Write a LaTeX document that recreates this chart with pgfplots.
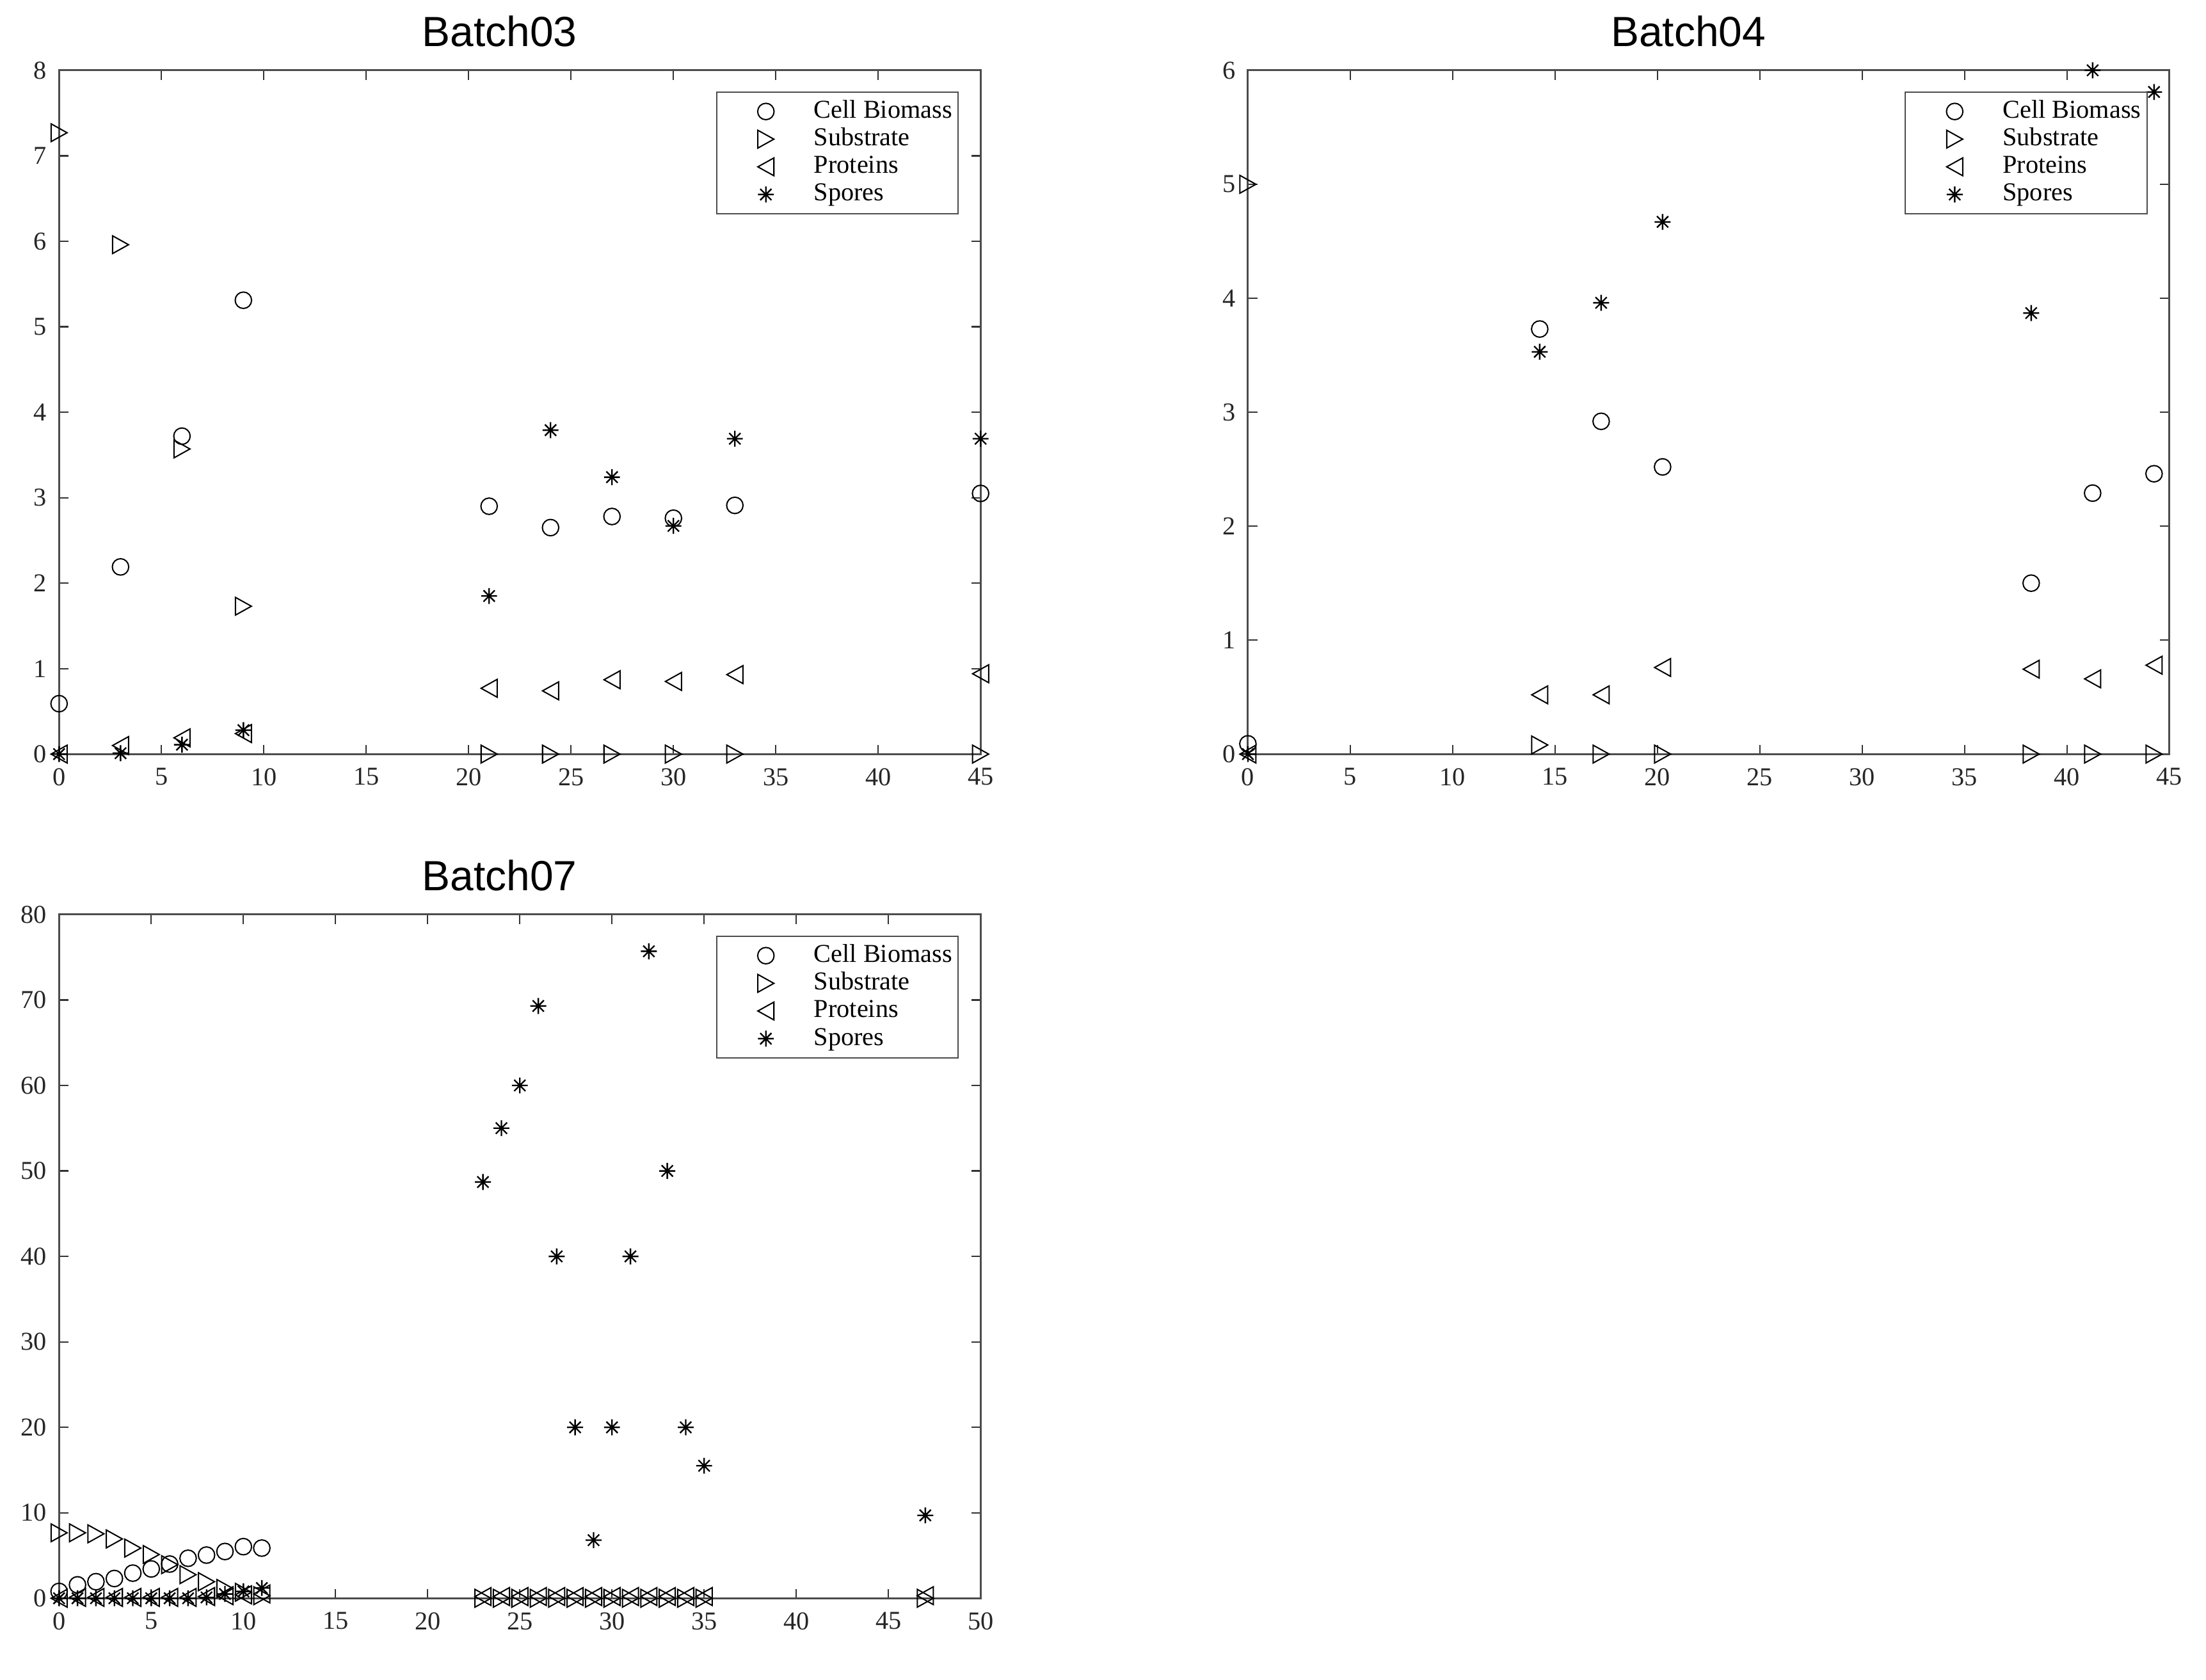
\documentclass[border=0pt]{standalone}
\usepackage{fontspec}
\setmainfont{Liberation Serif}
\newfontfamily\titlefont{Liberation Sans}
\usepackage{pgfplots}
\pgfplotsset{compat=1.18}

\pgfdeclareplotmark{mstar}{%
  \pgfpathmoveto{\pgfqpoint{-\pgfplotmarksize}{0pt}}%
  \pgfpathlineto{\pgfqpoint{\pgfplotmarksize}{0pt}}%
  \pgfpathmoveto{\pgfqpoint{0pt}{-\pgfplotmarksize}}%
  \pgfpathlineto{\pgfqpoint{0pt}{\pgfplotmarksize}}%
  \pgfpathmoveto{\pgfqpoint{-0.707\pgfplotmarksize}{-0.707\pgfplotmarksize}}%
  \pgfpathlineto{\pgfqpoint{0.707\pgfplotmarksize}{0.707\pgfplotmarksize}}%
  \pgfpathmoveto{\pgfqpoint{-0.707\pgfplotmarksize}{0.707\pgfplotmarksize}}%
  \pgfpathlineto{\pgfqpoint{0.707\pgfplotmarksize}{-0.707\pgfplotmarksize}}%
  \pgfusepathqstroke}
\pgfdeclareplotmark{mright}{%
  \pgfpathmoveto{\pgfqpoint{-0.9\pgfplotmarksize}{\pgfplotmarksize}}%
  \pgfpathlineto{\pgfqpoint{0.9\pgfplotmarksize}{0pt}}%
  \pgfpathlineto{\pgfqpoint{-0.9\pgfplotmarksize}{-\pgfplotmarksize}}%
  \pgfpathclose\pgfusepathqstroke}
\pgfdeclareplotmark{mleft}{%
  \pgfpathmoveto{\pgfqpoint{0.9\pgfplotmarksize}{\pgfplotmarksize}}%
  \pgfpathlineto{\pgfqpoint{-0.9\pgfplotmarksize}{0pt}}%
  \pgfpathlineto{\pgfqpoint{0.9\pgfplotmarksize}{-\pgfplotmarksize}}%
  \pgfpathclose\pgfusepathqstroke}

\pgfplotsset{
  mstyle/.style={
    scale only axis, width=393pt, height=291.6pt,
    clip=false,
    axis line style={black!70, line width=0.8pt},
    tick style={black!80, line width=0.6pt},
    major tick length=4pt,
    tick align=inside,
    xtick pos=both, ytick pos=both,
    ticklabel style={font=\fontsize{11}{13}\selectfont, text=black!85},
    /pgf/number format/assume math mode=true,
    x tick label style={yshift=-2.5pt},
    y tick label style={xshift=-1.8pt},
    title style={font=\titlefont\fontsize{18}{20}\selectfont, at={(0.478,1)}, anchor=base, yshift=4.2pt},
    legend style={at={(1,1)}, xshift=-9.3pt, yshift=-9pt, anchor=north east,
      draw=black!70, line width=0.6pt, fill=white,
      font=\fontsize{11}{13}\selectfont, inner xsep=2pt, inner ysep=2.5pt, row sep=0.3pt,
      nodes={inner sep=0.5pt, text height=8pt, text depth=2.5pt}},
    legend cell align=left,
  },
  limg/.style={legend image code/.code={\path[draw=none,fill=none] (0pt,0pt) -- (39pt,0pt);\draw[##1, only marks] plot coordinates {(19pt,0pt)};}},
  pcell/.style={only marks, mark=o, mark size=3.5pt, mark options={black, line width=0.55pt}, limg},
  psub/.style={only marks, mark=mright, mark size=3.8pt, mark options={black, line width=0.55pt}, limg},
  pprot/.style={only marks, mark=mleft, mark size=3.8pt, mark options={black, line width=0.55pt}, limg},
  pspor/.style={only marks, mark=mstar, mark size=3.4pt, mark options={black, line width=0.65pt}, limg},
}

\begin{document}
\begin{tikzpicture}
\path[use as bounding box] (0pt,0pt) rectangle (940.8pt,716.4pt);

% Batch03
\begin{axis}[mstyle, at={(25.2pt,394.8pt)}, anchor=south west,
  title={Batch03}, xmin=0, xmax=45, ymin=0, ymax=8,
  xtick={0,5,...,45}, ytick={0,1,...,8}]
\addplot[pcell] coordinates {(0,0.59)(3,2.19)(6,3.72)(9,5.31)(21,2.90)(24,2.65)(27,2.78)(30,2.76)(33,2.91)(45,3.05)};
\addlegendentry{Cell Biomass}
\addplot[psub] coordinates {(0,7.27)(3,5.96)(6,3.57)(9,1.73)(21,0)(24,0)(27,0)(30,0)(33,0)(45,0)};
\addlegendentry{Substrate}
\addplot[pprot] coordinates {(0,0)(3,0.10)(6,0.19)(9,0.24)(21,0.77)(24,0.74)(27,0.87)(30,0.85)(33,0.93)(45,0.94)};
\addlegendentry{Proteins}
\addplot[pspor] coordinates {(0,0)(3,0.01)(6,0.11)(9,0.28)(21,1.85)(24,3.79)(27,3.24)(30,2.67)(33,3.69)(45,3.69)};
\addlegendentry{Spores}
\end{axis}

% Batch04
\begin{axis}[mstyle, at={(532.2pt,394.8pt)}, anchor=south west,
  title={Batch04}, xmin=0, xmax=45, ymin=0, ymax=6,
  xtick={0,5,...,45}, ytick={0,1,...,6}]
\addplot[pcell] coordinates {(0,0.09)(14.25,3.73)(17.25,2.92)(20.25,2.52)(38.25,1.50)(41.25,2.29)(44.25,2.46)};
\addlegendentry{Cell Biomass}
\addplot[psub] coordinates {(0,5.0)(14.25,0.08)(17.25,0)(20.25,0)(38.25,0)(41.25,0)(44.25,0)};
\addlegendentry{Substrate}
\addplot[pprot] coordinates {(0,0)(14.25,0.52)(17.25,0.52)(20.25,0.76)(38.25,0.745)(41.25,0.66)(44.25,0.78)};
\addlegendentry{Proteins}
\addplot[pspor] coordinates {(0,0)(14.25,3.53)(17.25,3.96)(20.25,4.67)(38.25,3.87)(41.25,6.0)(44.25,5.81)};
\addlegendentry{Spores}
\end{axis}

% Batch07
\begin{axis}[mstyle, at={(25.2pt,34.8pt)}, anchor=south west,
  title={Batch07}, xmin=0, xmax=50, ymin=0, ymax=80,
  xtick={0,5,...,50}, ytick={0,10,...,80}]
\addplot[pcell] coordinates {(0,0.8)(1,1.57)(2,1.94)(3,2.31)(4,2.94)(5,3.43)(6,4.0)(7,4.68)(8,5.05)(9,5.47)(10,6.04)(11,5.87)};
\addlegendentry{Cell Biomass}
\addplot[psub] coordinates {(0,7.66)(1,7.66)(2,7.54)(3,6.94)(4,5.87)(5,5.12)(6,3.93)(7,2.76)(8,1.94)(9,1.14)(10,0.7)(11,0.3)
  (23,0)(24,0)(25,0)(26,0)(27,0)(28,0)(29,0)(30,0)(31,0)(32,0)(33,0)(34,0)(35,0)(47,0)};
\addlegendentry{Substrate}
\addplot[pprot] coordinates {(0,0)(1,0.1)(2,0.1)(3,0.1)(4,0.1)(5,0.1)(6,0.1)(7,0.1)(8,0.2)(9,0.3)(10,0.4)(11,0.5)
  (23,0.2)(24,0.2)(25,0.2)(26,0.2)(27,0.2)(28,0.2)(29,0.2)(30,0.2)(31,0.2)(32,0.2)(33,0.2)(34,0.2)(35,0.2)(47,0.3)};
\addlegendentry{Proteins}
\addplot[pspor] coordinates {(0,0)(1,0)(2,0)(3,0)(4,0)(5,0)(6,0)(7,0)(8,0.1)(9,0.5)(10,0.8)(11,1.2)
  (23,48.7)(24,55.0)(25,60.0)(26,69.3)(27,40.0)(28,20.0)(29,6.8)(30,20.0)(31,40.0)(32,75.7)(33,50.0)(34,20.0)(35,15.5)(47,9.7)};
\addlegendentry{Spores}
\end{axis}
\end{tikzpicture}
\end{document}
